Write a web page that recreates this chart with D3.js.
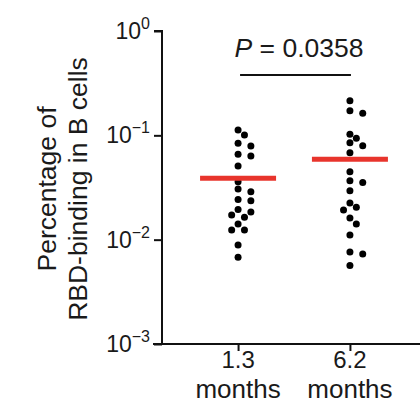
<!DOCTYPE html>
<html>
<head>
<meta charset="utf-8">
<script src="https://cdn.jsdelivr.net/npm/d3@7"></script>
<style>
  html, body { margin: 0; padding: 0; background: #fff; }
  text { font-family: "Liberation Sans", Arial, Helvetica, sans-serif; fill: #1a1a1a; }
</style>
</head>
<body>
<svg id="chart" width="420" height="406"></svg>
<script>
// ---- data ----
const categories = ["1.3 months", "6.2 months"];
const categoryLines = [["1.3", "months"], ["6.2", "months"]];
const values13 = [0.1124, 0.1007, 0.0838, 0.0789, 0.0657, 0.0633, 0.0508, 0.0359, 0.0306, 0.0288,
                  0.0243, 0.0236, 0.0195, 0.0184, 0.0172, 0.0164, 0.0141, 0.0124, 0.0124, 0.00887, 0.00677];
const values62 = [0.2147, 0.172, 0.1625, 0.1022, 0.0936, 0.0849, 0.0795, 0.0681, 0.0448, 0.0367, 0.0354,
                  0.0294, 0.0224, 0.0204, 0.0192, 0.0161, 0.0141, 0.0111, 0.0076, 0.00728, 0.00567];
const centerValues = [0.0387, 0.0589];
const yTickValues = [1e-3, 1e-2, 1e-1, 1];
const yTickExponents = ["−3", "−2", "−1", "0"];
const pLabel = "0.0358";
const yLabelLines = ["Percentage of", "RBD-binding in B cells"];

const seriesValues = [values13, values62];

// ---- layout ----
const svg = d3.select("#chart");
const axisX = 162, yTop = 31, yBottom = 344;

const y = d3.scaleLog().domain([1e-3, 1]).range([yBottom, yTop]);
const x = d3.scalePoint().domain(categories).range([axisX, 426]).padding(0.68);

// y axis
const yAxis = d3.axisLeft(y).tickValues(yTickValues).tickSize(8).tickFormat(() => "");
const gy = svg.append("g").attr("transform", `translate(${axisX},0)`).call(yAxis);
gy.selectAll("path, line").attr("stroke", "#111").attr("stroke-width", 2);
gy.select(".domain").attr("d", `M-8,${yBottom}H0V${yTop}H-8`);

// y tick labels with superscripts
yTickValues.forEach((v, i) => {
  const t = svg.append("text")
    .attr("x", axisX - 12)
    .attr("y", y(v) + 8)
    .attr("text-anchor", "end")
    .style("font-size", "23px");
  t.append("tspan").text("10");
  t.append("tspan").attr("dy", -10).style("font-size", "16px").text(yTickExponents[i]);
});

// x axis
const xAxis = d3.axisBottom(x).tickSize(7).tickFormat(() => "");
const gx = svg.append("g").attr("transform", `translate(0,${yBottom})`).call(xAxis);
gx.selectAll("path, line").attr("stroke", "#111").attr("stroke-width", 2);
gx.select(".domain").attr("d", `M${axisX - 9},0H430`);

categories.forEach((c, i) => {
  svg.append("text")
    .attr("x", x(c)).attr("y", 368)
    .attr("text-anchor", "middle")
    .style("font-size", "24px")
    .text(categoryLines[i][0]);
  svg.append("text")
    .attr("x", x(c)).attr("y", 398)
    .attr("text-anchor", "middle")
    .style("font-size", "26px")
    .text(categoryLines[i][1]);
});

// y label
const yl = svg.append("text")
  .attr("transform", "translate(0,189) rotate(-90)")
  .attr("text-anchor", "middle")
  .style("font-size", "26.5px");
yl.append("tspan").attr("x", 0).attr("y", 56).text(yLabelLines[0]);
yl.append("tspan").attr("x", 0).attr("y", 87).text(yLabelLines[1]);

// beeswarm dots (greedy dodge)
const r = 3.5, step = 6.4;
function swarm(vals) {
  const placed = [];
  const sorted = vals.map(v => ({v, py: y(v)})).sort((a, b) => a.py - b.py);
  const candidates = [0, 1, -1, 2, -2, 3, -3];
  sorted.forEach(p => {
    for (const k of candidates) {
      const ox = k * step;
      if (placed.every(q => Math.hypot(q.ox - ox, q.py - p.py) >= 2 * r + 0.2)) {
        p.ox = ox; placed.push(p); break;
      }
    }
  });
  return placed;
}

seriesValues.forEach((vals, i) => {
  const cx = x(categories[i]);
  svg.append("g").selectAll("circle")
    .data(swarm(vals))
    .join("circle")
    .attr("cx", d => cx + d.ox)
    .attr("cy", d => d.py)
    .attr("r", r)
    .attr("fill", "#000");
  svg.append("line")
    .attr("x1", cx - 38).attr("x2", cx + 38)
    .attr("y1", y(centerValues[i])).attr("y2", y(centerValues[i]))
    .attr("stroke", "#e8342c").attr("stroke-width", 5);
});

// significance bracket
const x1 = x(categories[0]), x2 = x(categories[1]);
svg.append("line").attr("x1", x1 + 2).attr("x2", x2 + 1).attr("y1", 75).attr("y2", 75)
  .attr("stroke", "#111").attr("stroke-width", 2);
const pt = svg.append("text").attr("x", (x1 + x2) / 2 + 5).attr("y", 57)
  .attr("text-anchor", "middle").style("font-size", "26.5px");
pt.append("tspan").style("font-style", "italic").text("P");
pt.append("tspan").text(" = " + pLabel);
</script>
</body>
</html>
